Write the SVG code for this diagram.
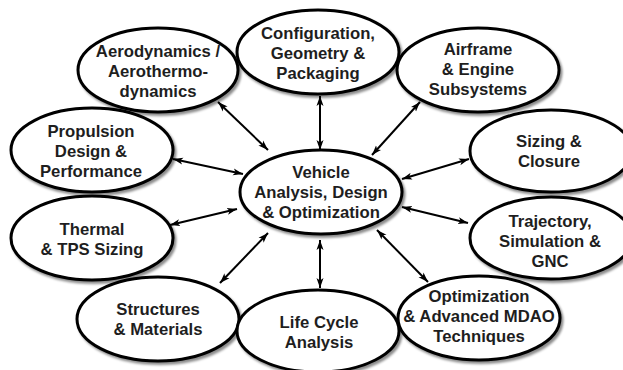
<svg xmlns="http://www.w3.org/2000/svg" width="623" height="370" viewBox="0 0 623 370">
<style>
.node ellipse{fill:#fff;stroke:#000;stroke-width:3;filter:url(#sh)}
.node text{font-family:"Liberation Sans",Arial,sans-serif;font-weight:bold;font-size:16.7px;fill:#1e1e1e;text-anchor:middle}
#connectors line{stroke:#000;stroke-width:2;marker-start:url(#ah);marker-end:url(#ah)}
</style>
<defs>
<filter id="sh" x="-10%" y="-15%" width="125%" height="135%">
<feDropShadow dx="2" dy="2.5" stdDeviation="1.3" flood-color="#000" flood-opacity="0.45"/>
</filter>
<marker id="ah" markerUnits="userSpaceOnUse" markerWidth="11" markerHeight="8" refX="10" refY="4" orient="auto-start-reverse">
<path d="M0,0.5 L10,4 L0,7.5 L2.5,4 z" fill="#000"/>
</marker>
</defs>
<rect width="623" height="370" fill="#fff"/>
<g id="connectors">
<line x1="218" y1="102" x2="268" y2="150"/>
<line x1="173" y1="159" x2="243" y2="174"/>
<line x1="320" y1="96" x2="320" y2="150"/>
<line x1="420" y1="102" x2="372" y2="155"/>
<line x1="469" y1="159" x2="402" y2="179"/>
<line x1="170" y1="225" x2="237" y2="209"/>
<line x1="220" y1="283" x2="268" y2="233"/>
<line x1="320" y1="240" x2="320" y2="288"/>
<line x1="402" y1="207" x2="468" y2="223"/>
<line x1="377" y1="230" x2="428" y2="282"/>
</g>
<g id="aero" class="node"><ellipse cx="158" cy="70" rx="80" ry="42"/>
<text x="158" y="57">Aerodynamics /</text><text x="158" y="77">Aerothermo-</text><text x="158" y="97">dynamics</text></g>
<g id="config" class="node"><ellipse cx="318" cy="52" rx="81" ry="42"/>
<text x="318" y="39">Configuration,</text><text x="318" y="59">Geometry &amp;</text><text x="318" y="79">Packaging</text></g>
<g id="airframe" class="node"><ellipse cx="478" cy="70" rx="81" ry="42"/>
<text x="478" y="55">Airframe</text><text x="478" y="75">&amp; Engine</text><text x="478" y="95">Subsystems</text></g>
<g id="propulsion" class="node"><ellipse cx="92" cy="150" rx="81" ry="42"/>
<text x="91" y="137">Propulsion</text><text x="91" y="157">Design &amp;</text><text x="91" y="177">Performance</text></g>
<g id="sizing" class="node"><ellipse cx="551" cy="151" rx="81" ry="41"/>
<text x="549" y="147">Sizing &amp;</text><text x="549" y="167">Closure</text></g>
<g id="center" class="node"><ellipse cx="321" cy="192" rx="81" ry="42"/>
<text x="321" y="178">Vehicle</text><text x="321" y="198">Analysis, Design</text><text x="321" y="218">&amp; Optimization</text></g>
<g id="thermal" class="node"><ellipse cx="92" cy="238" rx="81" ry="42"/>
<text x="92" y="235">Thermal</text><text x="92" y="255">&amp; TPS Sizing</text></g>
<g id="trajectory" class="node"><ellipse cx="551" cy="238" rx="81" ry="41"/>
<text x="550" y="227">Trajectory,</text><text x="550" y="247">Simulation &amp;</text><text x="550" y="267">GNC</text></g>
<g id="structures" class="node"><ellipse cx="158" cy="319" rx="81" ry="42"/>
<text x="158" y="315">Structures</text><text x="158" y="335">&amp; Materials</text></g>
<g id="lifecycle" class="node"><ellipse cx="318" cy="331" rx="81" ry="41"/>
<text x="319" y="328">Life Cycle</text><text x="319" y="348">Analysis</text></g>
<g id="optimization" class="node"><ellipse cx="479" cy="318" rx="81" ry="42"/>
<text x="479" y="302">Optimization</text><text x="479" y="322">&amp; Advanced MDAO</text><text x="479" y="342">Techniques</text></g>
</svg>
